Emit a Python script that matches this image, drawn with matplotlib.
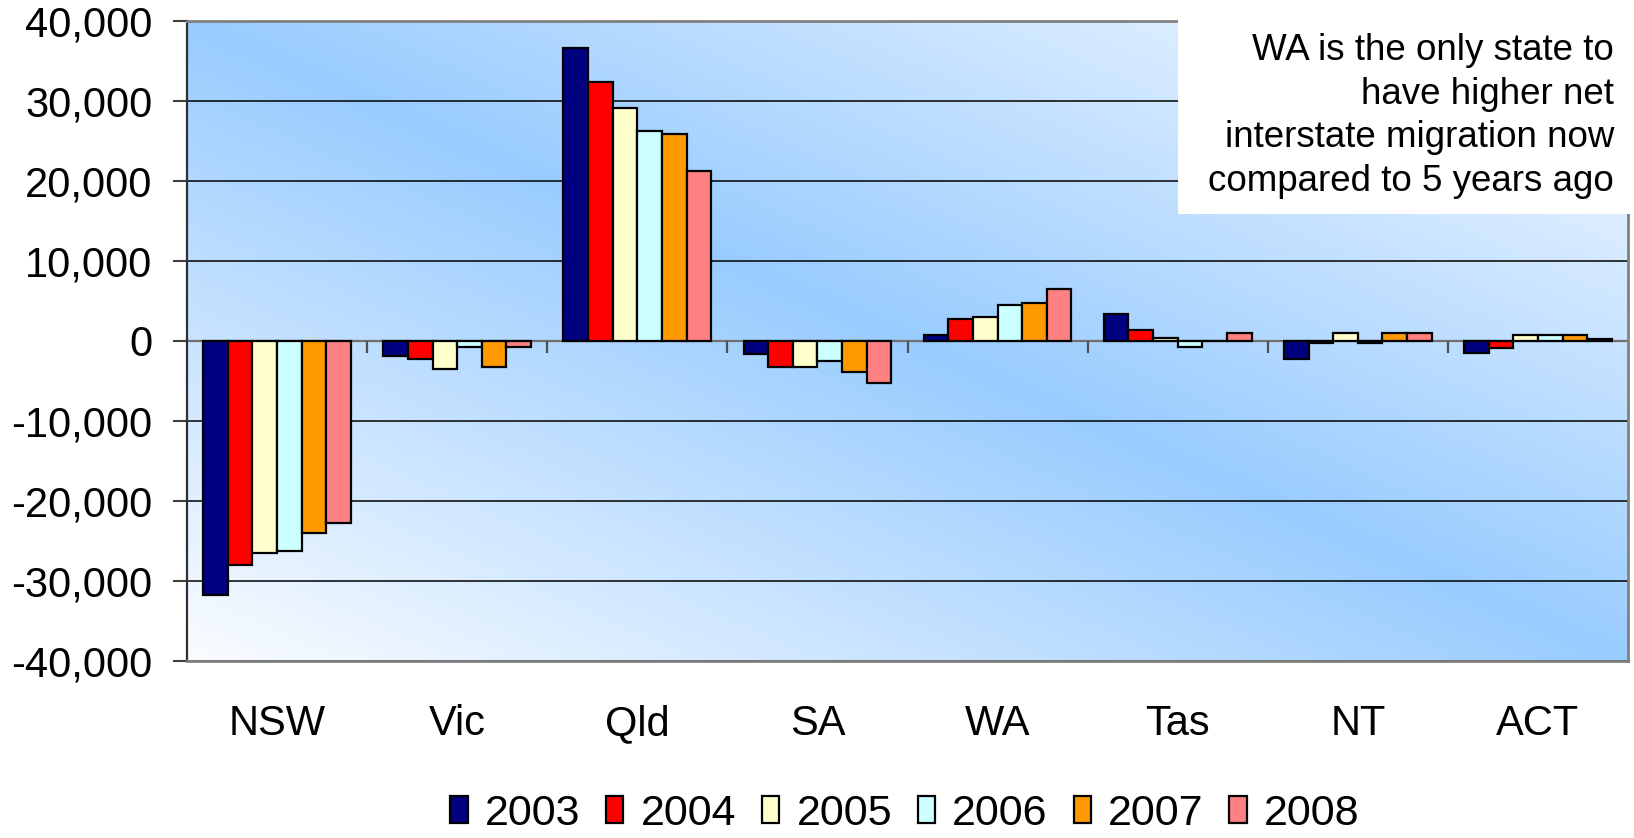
import numpy as np
import matplotlib.pyplot as plt
from matplotlib.ticker import FuncFormatter
from matplotlib.patches import Rectangle

# dane
stany = ['NSW', 'Vic', 'Qld', 'SA', 'WA', 'Tas', 'NT', 'ACT']
lata = ['2003', '2004', '2005', '2006', '2007', '2008']
y2003 = [-31800, -1900, 36600, -1600, 700, 3400, -2200, -1500]
y2004 = [-28000, -2200, 32400, -3200, 2700, 1400, -300, -900]
y2005 = [-26500, -3500, 29100, -3200, 3000, 400, 1000, 700]
y2006 = [-26200, -700, 26200, -2500, 4500, -700, -300, 700]
y2007 = [-24000, -3200, 25900, -3900, 4800, 0, 1000, 700]
y2008 = [-22800, -800, 21300, -5200, 6500, 1000, 1000, 300]
serie = [y2003, y2004, y2005, y2006, y2007, y2008]
kolory = ['#000080', '#ff0000', '#ffffcc', '#ccffff', '#ff9900', '#ff8080']
notka = 'WA is the only state to\nhave higher net\ninterstate migration now\ncompared to 5 years ago'

plt.rcParams['font.family'] = ['Liberation Sans', 'DejaVu Sans']

fig = plt.figure(figsize=(16.34, 8.38), dpi=100)
ax = fig.add_axes([187/1634, 1 - 661/838, (1628 - 187)/1634, 640/838])

# tlo z gradientem
u = np.linspace(0, 1, 400)
v = np.linspace(0, 1, 200)
U, V = np.meshgrid(u, v)
t = np.clip(np.abs(U - V), 0, 1)
niebieski = np.array([153, 204, 255]) / 255
bialy = np.array([250, 252, 255]) / 255
img = niebieski[None, None, :] + (bialy - niebieski)[None, None, :] * t[..., None]
ax.imshow(img, extent=[0, 1, 0, 1], transform=ax.transAxes, aspect='auto', zorder=0)

x = np.arange(len(stany))
w = 0.82 / len(lata)
for j, (rok, vals) in enumerate(zip(lata, serie)):
    ax.bar(x + (j - 2.5) * w, vals, width=w, color=kolory[j], edgecolor='black',
           linewidth=1.6, label=rok, zorder=3)

ax.set_xlim(-0.5, len(stany) - 0.5)
ax.set_ylim(-40000, 40000)
ax.set_yticks(range(-40000, 40001, 10000))
ax.yaxis.set_major_formatter(FuncFormatter(lambda val, pos: f'{val:,.0f}'))
ax.yaxis.grid(True, color='black', linewidth=1.1, zorder=1)
ax.set_axisbelow(True)

# os zero z kreskami
ax.axhline(0, color='#707070', linewidth=1.6, zorder=2)
ax.vlines(np.arange(0.5, len(stany) - 0.5, 1), -1500, 0, color='#505050', linewidth=1.6, zorder=2)

ax.set_xticks(x)
ax.set_xticklabels(stany)
ax.tick_params(axis='x', length=0, pad=31, labelsize=30)
ax.tick_params(axis='y', length=10, width=1.5, pad=15, labelsize=30, color='#404040')

for s in ['top', 'bottom', 'right']:
    ax.spines[s].set_color('#808080')
    ax.spines[s].set_linewidth(2)
ax.spines['left'].set_color('#303030')
ax.spines['left'].set_linewidth(1.6)

# legenda
fig.legend(loc='center', bbox_to_anchor=(905/1634, 1 - 814/838), ncol=6, frameon=False,
           fontsize=31, handlelength=0.4, handleheight=0.6, handletextpad=0.4,
           columnspacing=0.6, borderpad=0.1)

# ramka z komentarzem
fig.add_artist(Rectangle((1178/1634, 1 - 214/838), 1 - 1178/1634, 214/838,
                         transform=fig.transFigure, facecolor='white', edgecolor='none', zorder=5))
fig.text(1614/1634, 1 - 116/838, notka, ha='right', va='center', fontsize=26.5,
         linespacing=1.32, zorder=6)

fig.savefig('out.png', dpi=100)
